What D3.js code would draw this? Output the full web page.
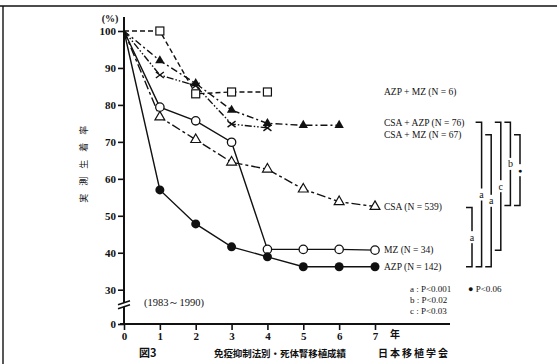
<!DOCTYPE html>
<html>
<head>
<meta charset="utf-8">
<script src="https://cdn.jsdelivr.net/npm/d3@7"></script>
<style>
  body { margin: 0; background: #fff; }
  svg { display: block; }
  text { font-family: "Liberation Serif", "DejaVu Serif", serif; fill: #111; }
  .cjk { font-family: "Noto Sans CJK JP", sans-serif; }
</style>
</head>
<body>
<div class="chart"></div>
<script>
// survival (%) by year
const years = [0, 1, 2, 3, 4, 5, 6, 7];
const azpMz = [100, 100, 83, 83.5, 83.5];
const csaAzp = [100, 92, 85.8, 78.6, 75, 74.5, 74.5];
const csaMz = [100, 88.1, 85.2, 74.8, 73.8];
const csa = [100, 76.7, 70.6, 64.5, 62.6, 57.2, 53.8, 52.5];
const mz = [100, 79.4, 75.7, 69.9, 40.9, 40.9, 40.9, 40.7];
const azp = [100, 57, 47.8, 41.6, 38.9, 36.2, 36.2, 36.2];

const seriesNames = ["AZP+MZ", "CSA+AZP", "CSA+MZ", "CSA", "MZ", "AZP"];
const seriesLabels = ["AZP + MZ  (N = 6)", "CSA + AZP (N = 76)", "CSA + MZ  (N = 67)",
                      "CSA (N = 539)", "MZ (N = 34)", "AZP (N = 142)"];
const yTicks = [0, 30, 40, 50, 60, 70, 80, 90, 100];
const xTicks = [0, 1, 2, 3, 4, 5, 6, 7];

// significance brackets: [from, to, mark]
const brackets = [
  ["CSA", "AZP", "a"],
  ["CSA+AZP", "AZP", "a"],
  ["CSA+MZ", "AZP", "a"],
  ["CSA+AZP", "MZ", "c"],
  ["CSA+AZP", "CSA", "b"],
  ["CSA+MZ", "CSA", "●"]
];
const pNotes = ["a : P<0.001", "b : P<0.02", "c : P<0.03"];
const pStar = "● P<0.06";

const width = 557, height = 364;
const svg = d3.select(".chart").append("svg")
  .attr("width", width).attr("height", height)
  .attr("viewBox", [0, 0, width, height]);

// frame lines of the scanned page
svg.append("line").attr("x1", 0).attr("x2", width).attr("y1", 6).attr("y2", 6)
  .attr("stroke", "#111").attr("stroke-width", 1.6);
svg.append("line").attr("x1", 3).attr("x2", 3).attr("y1", 6).attr("y2", height)
  .attr("stroke", "#111").attr("stroke-width", 1.4);

const x = d3.scaleLinear().domain([0, 7]).range([124, 375]);
// broken axis: 0 sits just below 30
const y = d3.scaleLinear().domain([0, 30, 100]).range([324, 289.7, 31]);

const styles = {
  "AZP+MZ":  {dash: "5,3", marker: "square"},
  "CSA+AZP": {dash: "7,3,2,3", marker: "tri-fill"},
  "CSA+MZ":  {dash: "7,2,1.5,2,1.5,2", marker: "cross"},
  "CSA":     {dash: "9,3,3,3", marker: "tri-open"},
  "MZ":      {dash: null, marker: "circle-open"},
  "AZP":     {dash: null, marker: "circle-fill"}
};
const values = [azpMz, csaAzp, csaMz, csa, mz, azp];
const series = seriesNames.map((name, i) => ({
  name, label: seriesLabels[i],
  points: values[i].map((v, j) => ({year: years[j], v}))
}));

// axes
const yAxis = svg.append("g")
  .attr("transform", `translate(${x(0)},0)`)
  .call(d3.axisLeft(y).tickValues(yTicks).tickFormat(d3.format("d")).tickSize(6).tickPadding(2).tickSizeOuter(0));
yAxis.select(".domain").remove();
yAxis.selectAll(".tick line").attr("stroke", "#111").attr("stroke-width", 1.6);
yAxis.selectAll(".tick text").attr("font-size", 11).attr("font-weight", "bold")
  .attr("font-family", "Liberation Serif, serif");
svg.append("line").attr("x1", x(0)).attr("x2", x(0)).attr("y1", y(0)).attr("y2", y(100) - 14)
  .attr("stroke", "#111").attr("stroke-width", 2);

const xAxis = svg.append("g")
  .attr("transform", `translate(0,${y(0)})`)
  .call(d3.axisBottom(x).tickValues(xTicks).tickFormat(d3.format("d")).tickSize(6).tickPadding(2).tickSizeOuter(0));
xAxis.select(".domain").remove();
xAxis.selectAll(".tick line").attr("stroke", "#111").attr("stroke-width", 1.6);
xAxis.selectAll(".tick text").attr("font-size", 11).attr("font-weight", "bold")
  .attr("font-family", "Liberation Serif, serif");
svg.append("line").attr("x1", x(0) - 4).attr("x2", 450).attr("y1", y(0)).attr("y2", y(0))
  .attr("stroke", "#111").attr("stroke-width", 2);
svg.append("text").attr("class", "cjk").attr("x", x(7) + 15).attr("y", y(0) + 14)
  .attr("font-size", 10).attr("font-weight", "bold").text("年");

// axis break mark
const by = (y(0) + y(30)) / 2 - 2;
svg.append("rect").attr("x", x(0) - 3).attr("y", by - 2).attr("width", 6).attr("height", 4).attr("fill", "#fff");
[-2, 2].forEach(d => {
  svg.append("line").attr("x1", x(0) - 6).attr("x2", x(0) + 6)
    .attr("y1", by + d + 2).attr("y2", by + d - 2)
    .attr("stroke", "#111").attr("stroke-width", 1.6);
});

svg.append("text").attr("x", 110).attr("y", 22).attr("font-size", 10).attr("font-weight", "bold")
  .attr("text-anchor", "middle").text("(%)");

svg.append("text").attr("class", "cjk")
  .attr("transform", `translate(87,${(y(50) + y(80)) / 2}) rotate(-90)`)
  .attr("text-anchor", "middle").attr("font-size", 9).attr("letter-spacing", 8)
  .attr("fill", "#333").text("実測生着率");

svg.append("text").attr("x", 144).attr("y", 306).attr("font-size", 10.5)
  .text("(1983～1990)");

// lines
const line = d3.line().x(d => x(d.year)).y(d => y(d.v));
svg.append("g").selectAll("path")
  .data(series)
  .join("path")
  .attr("d", d => line(d.points))
  .attr("fill", "none")
  .attr("stroke", "#111")
  .attr("stroke-width", 1.4)
  .attr("stroke-dasharray", d => styles[d.name].dash);

// markers
const symTri = d3.symbol().type(d3.symbolTriangle);
series.forEach(s => {
  const m = styles[s.name].marker;
  const g = svg.append("g");
  const pts = s.points.filter(p => p.year > 0);
  pts.forEach(p => {
    const px = x(p.year), py = y(p.v);
    if (m === "square") {
      g.append("rect").attr("x", px - 4).attr("y", py - 4).attr("width", 8).attr("height", 8)
        .attr("fill", "#fff").attr("stroke", "#111").attr("stroke-width", 1.2);
    } else if (m === "tri-fill") {
      g.append("path").attr("d", symTri.size(38)()).attr("transform", `translate(${px},${py})`)
        .attr("fill", "#111");
    } else if (m === "tri-open") {
      g.append("path").attr("d", symTri.size(42)()).attr("transform", `translate(${px},${py})`)
        .attr("fill", "#fff").attr("stroke", "#111").attr("stroke-width", 1.2);
    } else if (m === "cross") {
      g.append("path").attr("d", `M${px - 4},${py - 3}L${px + 4},${py + 3}M${px - 4},${py + 3}L${px + 4},${py - 3}`)
        .attr("stroke", "#111").attr("stroke-width", 1.4);
    } else if (m === "circle-open") {
      g.append("circle").attr("cx", px).attr("cy", py).attr("r", 4.2)
        .attr("fill", "#fff").attr("stroke", "#111").attr("stroke-width", 1.3);
    } else {
      g.append("circle").attr("cx", px).attr("cy", py).attr("r", 4.5).attr("fill", "#111");
    }
  });
});

// end labels
const labelShift = {"CSA+AZP": -3, "CSA+MZ": 7};
const labelY = {};
series.forEach(s => {
  const last = s.points[s.points.length - 1];
  labelY[s.name] = y(last.v) + (labelShift[s.name] || 0);
  svg.append("text").attr("x", 384).attr("y", labelY[s.name]).attr("dy", "0.35em")
    .attr("font-size", 9.5).text(s.label);
});

// brackets
const bx0 = 472, bstep = 9.6;
brackets.forEach(([from, to, mark], i) => {
  const bx = bx0 + i * bstep;
  const y1 = labelY[from] + (from === "CSA" ? 1 : 0);
  const y2 = labelY[to] - (to === "CSA" ? 1 : 0);
  svg.append("path")
    .attr("d", `M${bx - 6},${y1}H${bx}V${y2}H${bx - 6}`)
    .attr("fill", "none").attr("stroke", "#111").attr("stroke-width", 1.5);
  const my = (y1 + y2) / 2;
  svg.append("rect").attr("x", bx - 3).attr("y", my - 6).attr("width", 6).attr("height", 12).attr("fill", "#fff");
  svg.append("text").attr("x", bx).attr("y", my).attr("dy", "0.35em")
    .attr("text-anchor", "middle").attr("font-size", mark === "●" ? 7 : 10)
    .attr("font-family", "DejaVu Sans, sans-serif").text(mark);
});

// p-value notes
pNotes.forEach((t, i) => {
  svg.append("text").attr("x", 410).attr("y", 292 + i * 11).attr("font-size", 9)
    .attr("font-family", "DejaVu Sans, sans-serif").text(t);
});
svg.append("text").attr("x", 468).attr("y", 292).attr("font-size", 9)
  .attr("font-family", "DejaVu Sans, sans-serif").text(pStar);

// caption
svg.append("text").attr("class", "cjk").attr("x", 139).attr("y", 357)
  .attr("font-size", 11).attr("font-weight", "bold").text("図3");
svg.append("text").attr("class", "cjk").attr("x", 214).attr("y", 357)
  .attr("font-size", 9.5).attr("font-weight", "bold").attr("textLength", 132).text("免疫抑制法別・死体腎移植成績");
svg.append("text").attr("class", "cjk").attr("x", 378).attr("y", 357)
  .attr("font-size", 10).attr("font-weight", "bold").attr("textLength", 70).text("日本移植学会");
</script>
</body>
</html>
